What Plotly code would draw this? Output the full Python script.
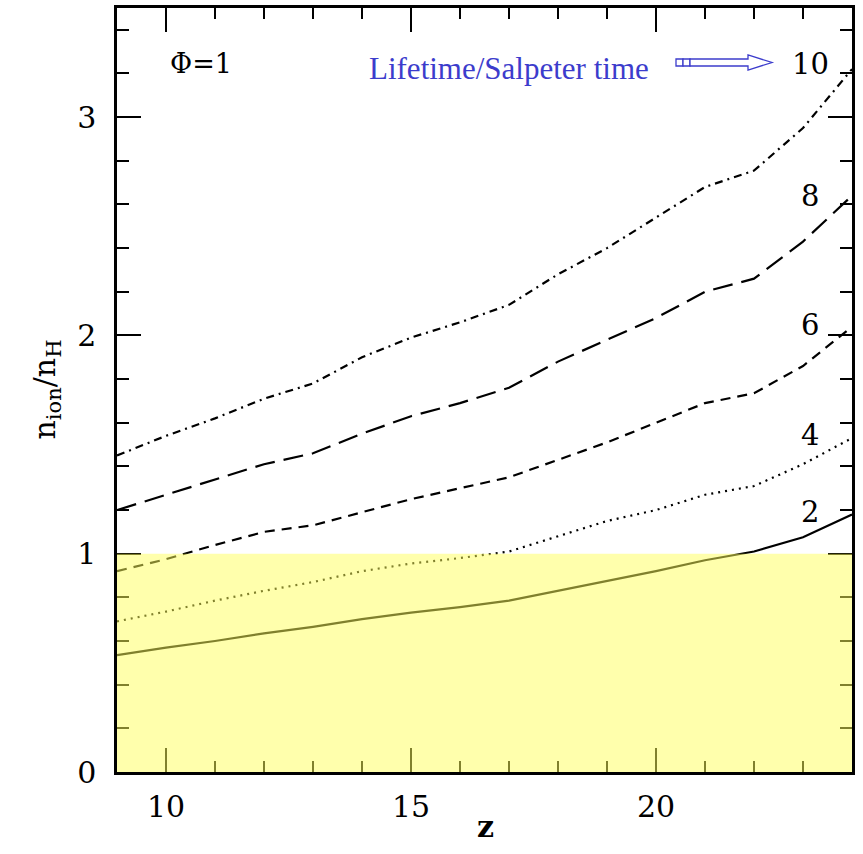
import plotly.graph_objects as go

# Redshift grid
z = [9, 10, 11, 12, 13, 14, 15, 16, 17, 18, 19, 20, 21, 22, 23, 24]

# n_ion / n_H for different lifetime / Salpeter time ratios
ratio_10 = [1.45, 1.54, 1.62, 1.71, 1.78, 1.90, 1.99, 2.06, 2.14, 2.28, 2.40, 2.54, 2.68, 2.755, 2.95, 3.22]
ratio_8 = [1.20, 1.27, 1.34, 1.41, 1.46, 1.55, 1.63, 1.69, 1.76, 1.88, 1.98, 2.08, 2.20, 2.26, 2.43, 2.64]
ratio_6 = [0.92, 0.975, 1.04, 1.10, 1.13, 1.19, 1.25, 1.30, 1.35, 1.43, 1.51, 1.60, 1.69, 1.735, 1.86, 2.04]
ratio_4 = [0.69, 0.735, 0.785, 0.83, 0.87, 0.92, 0.955, 0.98, 1.01, 1.08, 1.15, 1.20, 1.27, 1.31, 1.41, 1.53]
ratio_2 = [0.535, 0.57, 0.60, 0.635, 0.665, 0.70, 0.73, 0.755, 0.785, 0.83, 0.875, 0.92, 0.97, 1.01, 1.075, 1.18]

curve_labels = ["10", "8", "6", "4", "2"]
curve_values = [ratio_10, ratio_8, ratio_6, ratio_4, ratio_2]
curve_dashes = ["8px,5px,2px,5px", "20px,9px", "10px,7px", "2px,5px", "solid"]
label_y = [3.245, 2.64, 2.046, 1.542, 1.19]

x_range = [9, 24]
y_range = [0, 3.5]

W, H = 863, 854
ML, MR, MT, MB = 117, 11, 8, 82
SERIF = "DejaVu Serif"

fig = go.Figure()

for name, vals, dash in zip(curve_labels, curve_values, curve_dashes):
    fig.add_trace(go.Scatter(
        x=z, y=vals, mode="lines", name=name,
        line=dict(color="black", width=2.2, dash=dash),
        showlegend=False, hoverinfo="skip",
    ))

# Lifetime labels at the right end of each curve
for name, ly in zip(curve_labels, label_y):
    fig.add_annotation(x=23.15, y=ly, text=name, showarrow=False,
                       xref="x", yref="y",
                       font=dict(family=SERIF, size=29, color="black"))

# Shaded region n_ion/n_H < 1
fig.add_shape(type="rect", xref="x domain", yref="y", x0=0, x1=1, y0=0, y1=1,
              fillcolor="rgb(255,255,90)", opacity=0.5, line=dict(width=0),
              layer="above")

fig.add_annotation(x=10.71, y=3.245, text="Φ=1", showarrow=False,
                   font=dict(family=SERIF, size=27, color="black"))

fig.add_annotation(x=17.0, y=3.225, text="Lifetime/Salpeter time", showarrow=False,
                   font=dict(family="Liberation Serif", size=31, color="#3c3ccc"))


def px(xp):
    return (xp - ML) / (W - ML - MR)


def py(yp):
    return (H - MB - yp) / (H - MT - MB)


blue = "#3c3ccc"
# small boxes at the arrow tail
for a, b in [(676, 683), (683, 690)]:
    fig.add_shape(type="rect", xref="paper", yref="paper",
                  x0=px(a), x1=px(b), y0=py(66), y1=py(59),
                  line=dict(color=blue, width=1.3), fillcolor="white", layer="above")
# hollow arrow body
path = "M {} {} L {} {} L {} {} L {} {} L {} {} L {} {} L {} {} Z".format(
    px(690), py(59), px(748), py(59), px(748), py(55), px(772), py(62.5),
    px(748), py(70), px(748), py(66), px(690), py(66))
fig.add_shape(type="path", xref="paper", yref="paper", path=path,
              line=dict(color=blue, width=1.3), fillcolor="white", layer="above")

# Axis titles
fig.add_annotation(xref="paper", yref="paper", x=px(24), y=0.5,
                   text="n<sub>ion</sub>/n<sub>H</sub>", textangle=-90, showarrow=False,
                   font=dict(family=SERIF, size=30, color="black"))
fig.add_annotation(xref="paper", yref="paper", x=px(485), y=py(846),
                   text="<b>z</b>", showarrow=False,
                   font=dict(family=SERIF, size=30, color="black"))

axis_common = dict(
    showline=True, linecolor="black", linewidth=2.5, mirror="allticks",
    ticks="inside", tickcolor="black", tickwidth=2, ticklen=24,
    showgrid=False, zeroline=False,
    tickfont=dict(family=SERIF, size=30, color="black"),
)

fig.update_xaxes(range=x_range, tickvals=[10, 15, 20], ticktext=["10", "15", "20"],
                 minor=dict(ticks="inside", ticklen=11, tickwidth=2, tickcolor="black",
                            dtick=1, tick0=9, showgrid=False),
                 ticklabelstandoff=6, **axis_common)
fig.update_yaxes(range=y_range, tickvals=[0, 1, 2, 3], ticktext=["0", "1", "2", "3"],
                 minor=dict(ticks="inside", ticklen=12, tickwidth=2, tickcolor="black",
                            dtick=0.2, tick0=0, showgrid=False),
                 ticklabelstandoff=12, **axis_common)

fig.update_layout(
    width=W, height=H,
    margin=dict(l=ML, r=MR, t=MT, b=MB, autoexpand=False),
    plot_bgcolor="white", paper_bgcolor="white",
)

fig.write_html("out.html")
